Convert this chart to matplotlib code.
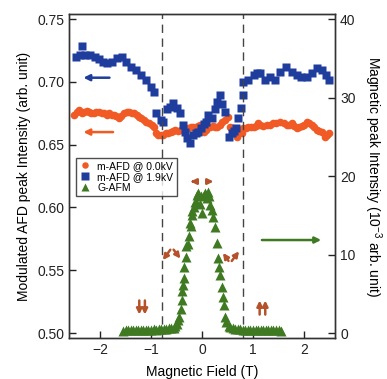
import matplotlib.pyplot as plt

plt.rcParams['font.family'] = ['Liberation Sans', 'DejaVu Sans']
plt.rcParams['mathtext.default'] = 'regular'

# m-AFD @ 1.9kV (left axis)
b_field = [-2.48, -2.40, -2.36, -2.30, -2.20, -2.10, -2.02, -1.95, -1.86, -1.76,
           -1.66, -1.57, -1.50, -1.40, -1.30, -1.20, -1.10, -1.00, -0.94, -0.90,
           -0.81, -0.76, -0.69, -0.62, -0.56, -0.50, -0.44, -0.37, -0.33, -0.29,
           -0.24, -0.17, -0.12, -0.07, -0.02, 0.03, 0.08, 0.12, 0.19, 0.25,
           0.29, 0.35, 0.40, 0.45, 0.52, 0.58, 0.63, 0.67, 0.71, 0.76,
           0.80, 0.81, 0.91, 1.01, 1.08, 1.14, 1.24, 1.33, 1.43, 1.53,
           1.65, 1.76, 1.86, 1.95, 2.05, 2.15, 2.25, 2.35, 2.43, 2.48]
b_int = [0.7195, 0.7215, 0.7285, 0.721, 0.721, 0.720, 0.718, 0.716, 0.7147, 0.716,
         0.7187, 0.720, 0.716, 0.712, 0.7094, 0.7054, 0.7014, 0.696, 0.692, 0.675,
         0.6696, 0.668, 0.678, 0.680, 0.683, 0.679, 0.675, 0.666, 0.660, 0.655,
         0.6515, 0.6576, 0.659, 0.660, 0.663, 0.6664, 0.668, 0.6736, 0.671, 0.678,
         0.6842, 0.6895, 0.682, 0.676, 0.656, 0.659, 0.661, 0.663, 0.671, 0.679,
         0.6895, 0.700, 0.7014, 0.7054, 0.7068, 0.7068, 0.7014, 0.704, 0.7014, 0.708,
         0.712, 0.708, 0.7054, 0.704, 0.704, 0.7068, 0.711, 0.7094, 0.7054, 0.7014]

# m-AFD @ 0.0kV (left axis)
o_field = [-2.51, -2.46, -2.41, -2.36, -2.31, -2.26, -2.22, -2.17, -2.12, -2.07,
           -2.02, -1.97, -1.92, -1.87, -1.82, -1.77, -1.73, -1.68, -1.63, -1.58,
           -1.53, -1.48, -1.43, -1.38, -1.33, -1.28, -1.24, -1.19, -1.14, -1.09,
           -1.04, -0.99, -0.94, -0.91, -0.86, -0.81, -0.76, -0.71, -0.66, -0.61,
           -0.56, -0.52, -0.47, -0.42, -0.37, -0.32, -0.27, -0.22, -0.17, -0.12,
           -0.08, -0.03, 0.03, 0.08, 0.12, 0.16, 0.21, 0.25, 0.29, 0.35,
           0.40, 0.45, 0.50, 0.55, 0.61, 0.65, 0.68, 0.72, 0.75, 0.78,
           0.81, 0.86, 0.91, 0.96, 1.01, 1.06, 1.10, 1.14, 1.20, 1.27,
           1.33, 1.40, 1.46, 1.53, 1.60, 1.66, 1.71, 1.76, 1.81, 1.86,
           1.91, 1.96, 2.00, 2.05, 2.10, 2.15, 2.20, 2.25, 2.30, 2.35,
           2.41, 2.45, 2.48]
o_int = [0.6736, 0.676, 0.6775, 0.675, 0.676, 0.677, 0.676, 0.675, 0.675, 0.676,
         0.676, 0.675, 0.675, 0.674, 0.675, 0.674, 0.6736, 0.673, 0.671, 0.673,
         0.675, 0.676, 0.676, 0.675, 0.675, 0.674, 0.672, 0.671, 0.6696, 0.668,
         0.667, 0.6656, 0.664, 0.659, 0.658, 0.6576, 0.658, 0.659, 0.659, 0.660,
         0.661, 0.6616, 0.661, 0.6616, 0.662, 0.663, 0.663, 0.6643, 0.664, 0.6643,
         0.665, 0.6656, 0.660, 0.662, 0.6643, 0.6643, 0.665, 0.6643, 0.6643, 0.6656,
         0.668, 0.6696, 0.672, 0.6643, 0.663, 0.660, 0.6563, 0.659, 0.6616, 0.659,
         0.663, 0.663, 0.6643, 0.664, 0.6643, 0.665, 0.667, 0.6656, 0.665, 0.6656,
         0.666, 0.667, 0.667, 0.668, 0.667, 0.6656, 0.666, 0.667, 0.665, 0.663,
         0.664, 0.665, 0.666, 0.668, 0.667, 0.6656, 0.664, 0.6616, 0.661, 0.660,
         0.6563, 0.658, 0.659]

# G-AFM (right axis, 1e-3 arb. unit)
g_field = [-1.55, -1.50, -1.45, -1.40, -1.35, -1.30, -1.25, -1.20, -1.15, -1.10,
           -1.05, -1.00, -0.95, -0.90, -0.85, -0.80, -0.75, -0.70, -0.65, -0.60,
           -0.55, -0.52, -0.50, -0.47, -0.45, -0.42, -0.40, -0.39, -0.37, -0.36,
           -0.35, -0.32, -0.31, -0.27, -0.25, -0.24, -0.22, -0.20, -0.19, -0.16,
           -0.14, -0.12, -0.10, -0.07, -0.04, -0.02, 0.00, 0.03, 0.06, 0.09,
           0.12, 0.14, 0.16, 0.19, 0.22, 0.25, 0.29, 0.32, 0.34, 0.35,
           0.39, 0.41, 0.43, 0.45, 0.48, 0.52, 0.55, 0.60, 0.65, 0.70,
           0.75, 0.80, 0.85, 0.90, 0.95, 1.00, 1.05, 1.10, 1.15, 1.20,
           1.25, 1.30, 1.35, 1.40, 1.45, 1.50, 1.55]
g_int = [0.3, 0.4, 0.35, 0.4, 0.45, 0.4, 0.4, 0.45, 0.4, 0.45,
         0.4, 0.45, 0.5, 0.45, 0.5, 0.5, 0.55, 0.5, 0.6, 0.6,
         0.7, 0.9, 1.2, 1.7, 2.1, 3.1, 4.2, 5.3, 6.1, 7.0,
         8.4, 9.7, 11.1, 11.4, 12.3, 14.0, 13.6, 15.5, 15.0, 16.1,
         16.7, 16.7, 17.6, 17.8, 16.5, 17.4, 15.3, 17.6, 17.8, 17.2,
         18.0, 17.4, 16.3, 15.7, 14.8, 13.5, 11.5, 9.5, 8.4, 7.4,
         5.9, 4.6, 3.6, 2.1, 1.4, 0.9, 0.8, 0.6, 0.55, 0.5,
         0.5, 0.45, 0.45, 0.4, 0.45, 0.4, 0.4, 0.45, 0.4, 0.4,
         0.45, 0.4, 0.4, 0.35, 0.4, 0.35, 0.3]

c_blue = '#1f3d9c'
c_orange = '#f15a24'
c_green = '#3f7a22'
c_brown = '#b5522a'

fig = plt.figure(figsize=(3.87, 3.79), dpi=100)
ax = fig.add_axes([0.178, 0.108, 0.688, 0.855])
ax2 = ax.twinx()

ax.plot(o_field, o_int, 'o', color=c_orange, ms=5.5, mec='none', label='m-AFD @ 0.0kV')
ax.plot(b_field, b_int, 's', color=c_blue, ms=6, mec='none', label='m-AFD @ 1.9kV')
ax2.plot(g_field, g_int, '^', color=c_green, ms=6.5, mec='none', label='G-AFM')

for xv in [-0.79, 0.8]:
    ax.axvline(xv, color='#444444', lw=1, ls=(0, (6, 4)))

ax.set_xlim(-2.61, 2.61)
ax.set_ylim(0.496, 0.754)
ax2.set_ylim(-0.64, 40.64)
ax.set_xticks([-2, -1, 0, 1, 2])
ax.set_yticks([0.50, 0.55, 0.60, 0.65, 0.70, 0.75])
ax2.set_yticks([0, 10, 20, 30, 40])
ax.set_yticklabels(['0.50', '0.55', '0.60', '0.65', '0.70', '0.75'])

for a in (ax, ax2):
    a.tick_params(direction='in', length=5, width=1, labelsize=10, colors='#222222')
    for s in a.spines.values():
        s.set_color('#333333')
        s.set_linewidth(1)

ax.set_xlabel('Magnetic Field (T)', fontsize=10, labelpad=6)
ax.set_ylabel('Modulated AFD peak Intensity (arb. unit)', fontsize=10, labelpad=4)
ax2.set_ylabel(r'Magnetic peak Intensity (10$^{-3}$ arb. unit)', fontsize=10,
               rotation=270, labelpad=20)

# direction arrows pointing to the axes
ax.annotate('', xy=(-2.38, 0.7033), xytext=(-1.76, 0.7033),
            arrowprops=dict(arrowstyle='-|>', color=c_blue, lw=1.8, mutation_scale=9))
ax.annotate('', xy=(-2.38, 0.660), xytext=(-1.69, 0.660),
            arrowprops=dict(arrowstyle='-|>', color=c_orange, lw=1.8, mutation_scale=9))
ax2.annotate('', xy=(2.39, 11.85), xytext=(1.12, 11.85),
             arrowprops=dict(arrowstyle='-|>', color=c_green, lw=1.8, mutation_scale=9))

# spin arrows
spin = dict(arrowstyle='-|>', color=c_brown, lw=1.8, mutation_scale=8)
ax2.annotate('', xy=(-0.28, 19.3), xytext=(-0.08, 19.3), arrowprops=spin)
ax2.annotate('', xy=(0.28, 19.3), xytext=(0.07, 19.3), arrowprops=spin)
ax2.annotate('', xy=(-0.80, 9.0), xytext=(-0.59, 10.9), arrowprops=spin)
ax2.annotate('', xy=(-0.39, 9.2), xytext=(-0.59, 10.9), arrowprops=spin)
ax2.annotate('', xy=(0.38, 10.5), xytext=(0.55, 8.9), arrowprops=spin)
ax2.annotate('', xy=(0.76, 10.7), xytext=(0.55, 8.9), arrowprops=spin)
for xv in [-1.23, -1.12]:
    ax2.annotate('', xy=(xv, 2.0), xytext=(xv, 4.5), arrowprops=spin)
for xv in [1.13, 1.24]:
    ax2.annotate('', xy=(xv, 4.5), xytext=(xv, 2.0), arrowprops=spin)

h1, l1 = ax.get_legend_handles_labels()
h2, l2 = ax2.get_legend_handles_labels()
leg = ax2.legend(h1 + h2, l1 + l2, loc='upper left', bbox_to_anchor=(0.025, 0.556),
                 fontsize=7.5, frameon=True, fancybox=False, edgecolor='#222222',
                 handlelength=1.2, handletextpad=0.6, borderpad=0.3, labelspacing=0.1,
                 borderaxespad=0, markerscale=0.85)
leg.get_frame().set_linewidth(1)

fig.savefig('out.png', dpi=100)
